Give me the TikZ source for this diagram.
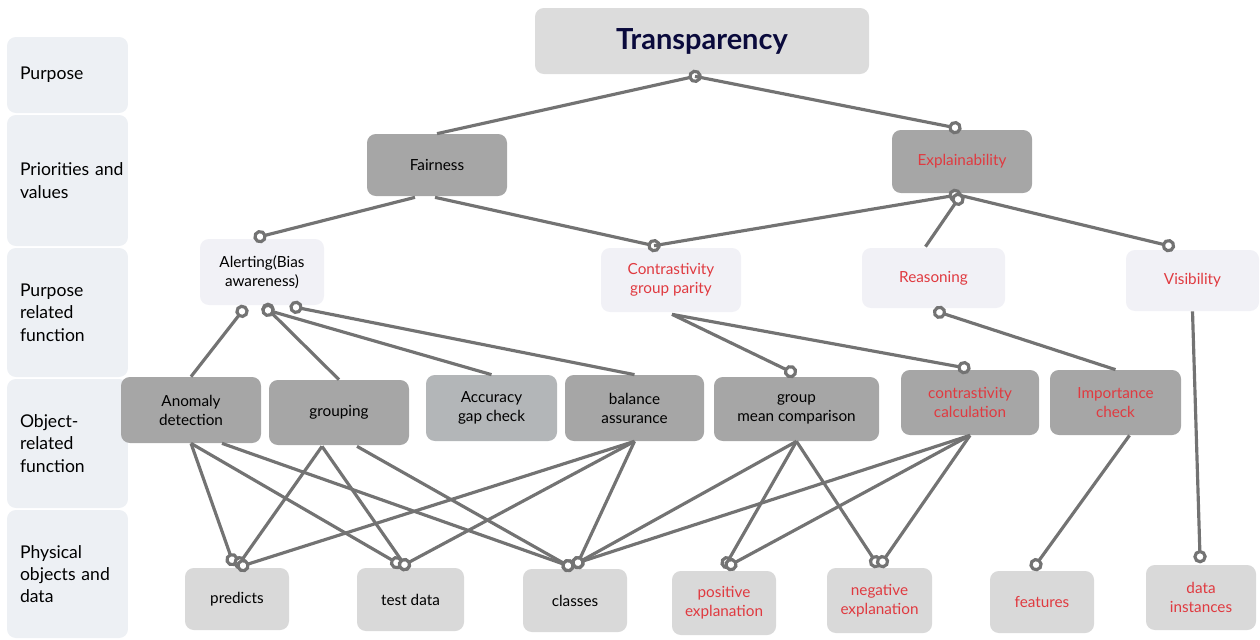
\documentclass[tikz,border=0pt]{standalone}
\usepackage{fontspec}
\setmainfont{Lato}
\usetikzlibrary{arrows.meta,calc}
\definecolor{sidefill}{HTML}{EDF0F4}
\definecolor{topfill}{HTML}{DCDCDC}
\definecolor{darkfill}{HTML}{A6A6A6}
\definecolor{midfill}{HTML}{B3B6B8}
\definecolor{palefill}{HTML}{F1F1F6}
\definecolor{datafill}{HTML}{D9D9D9}
\definecolor{linkgray}{HTML}{737373}
\definecolor{redtext}{HTML}{E03A40}
\definecolor{navytext}{HTML}{0A0A3C}

\begin{document}
\begin{tikzpicture}[x=0.02cm, y=-0.02cm,
    side/.style={fill=sidefill, rounded corners=5pt, minimum width=2.42cm, minimum height=#1*0.02cm,
        text width=1.9cm, inner xsep=0.26cm, align=left, font=\fontsize{10}{12.7}\selectfont},
    box/.style 2 args={rounded corners=5pt, minimum width=#1*0.02cm, minimum height=#2*0.02cm,
        inner sep=0pt, align=center, font=\fontsize{8.7}{10.8}\selectfont},
    dark/.style={fill=darkfill},
    mid/.style={fill=midfill},
    pale/.style={fill=palefill},
    datab/.style={fill=datafill},
    redlabel/.style={text=redtext},
    link/.style={draw=linkgray, line width=1.8pt},
    pin/.style={link, -{Circle[length=7.6pt, fill=white]}, shorten >=-3.8pt},
    pinstart/.style={link, {Circle[length=7.6pt, fill=white]}-, shorten <=-3.8pt}]
    \useasboundingbox (0,0) rectangle (1260,639);

    % left column
    \node[side=76] (sPurp) at (67.5,75) {Purpose};
    \node[side=131] (sPrio) at (67.5,180.5) {Priorities~and\\values};
    \node[side=129] (sFunc) at (67.5,312.5) {Purpose\\related\\function};
    \node[side=129] (sObj) at (67.5,443.5) {Object-\\related\\function};
    \node[side=128] (sData) at (67.5,574) {Physical\\objects~and\\data};

    % purpose, priorities and values
    \node[box={334}{66}, fill=topfill, text=navytext, font=\fontsize{16.5}{19}\selectfont\bfseries] (trans) at (702,41) {Transparency};
    \node[box={140}{62}, dark] (fair) at (437,165) {Fairness};
    \node[box={140}{63}, dark, redlabel] (expl) at (962,161.5) {Explainability};

    % purpose related functions
    \node[box={124}{66}, pale] (alert) at (262,272) {Alerting(Bias\\awareness)};
    \node[box={140}{64}, pale, redlabel] (contr) at (671,280) {Contrastivity\\group parity};
    \node[box={143}{60}, pale, redlabel] (reas) at (933.5,278) {Reasoning};
    \node[box={133}{61}, pale, redlabel] (visi) at (1192.5,280.5) {Visibility};

    % object related functions
    \node[box={140}{66}, dark] (anom) at (191,410) {Anomaly\\detection};
    \node[box={140}{65}, dark] (group) at (339,412.5) {grouping};
    \node[box={131}{66}, mid] (accu) at (491.5,408) {Accuracy\\gap check};
    \node[box={139}{66}, dark] (bal) at (634.5,408) {balance\\assurance};
    \node[box={165}{64}, dark] (gmc) at (796.5,409) {group\\mean comparison};
    \node[box={138}{65}, dark, redlabel] (ccal) at (970,402.5) {contrastivity\\calculation};
    \node[box={131}{65}, dark, redlabel] (imp) at (1115.5,402.5) {Importance\\check};

    % physical objects and data
    \node[box={104}{62}, datab] (pred) at (237,599) {predicts};
    \node[box={107}{63}, datab] (test) at (410.5,599.5) {test data};
    \node[box={104}{63}, datab] (cls) at (575,600.5) {classes};
    \node[box={104}{64}, datab, redlabel] (pos) at (724,603) {positive\\explanation};
    \node[box={105}{65}, datab, redlabel] (neg) at (879.5,600.5) {negative\\explanation};
    \node[box={104}{62}, datab, redlabel] (feat) at (1042,602) {features};
    \node[box={110}{65}, datab, redlabel] (inst) at (1201,597.5) {data\\instances};

    % upper links
    \draw[pinstart] ($(trans.south)+(-7,2)$) -- (fair.north);
    \draw[pin] ($(trans.south)+(-7,2)$) -- ($(expl.north)+(-7,-2)$);
    \draw[pin] ($(fair.south)+(-22,1)$) -- ($(alert.north)+(-2,-2)$);
    \draw[pin] ($(fair.south)+(-2,1)$) -- ($(contr.north)+(-17,-2)$);
    \draw[pinstart] ($(expl.south)+(-7,2)$) -- ($(contr.north)+(-17,-2)$);
    \draw[pinstart] ($(expl.south)+(-4,6)$) -- ($(reas.north)+(-8,-1)$);
    \draw[pin] ($(expl.south)+(-2,2)$) -- ($(visi.north)+(-24,-4)$);

    % purpose related to object related
    \draw[pinstart] ($(alert.south)+(-20,6)$) -- (anom.north);
    \draw[pinstart] ($(alert.south)+(6,4)$) -- (group.north);
    \draw[pinstart] ($(alert.south)+(6,5)$) -- (accu.north);
    \draw[pinstart] ($(alert.south)+(34,2)$) -- (bal.north);
    \draw[pin] ($(contr.south)+(1,2)$) -- ($(gmc.north)+(-6,-5)$);
    \draw[pin] ($(contr.south)+(1,2)$) -- ($(ccal.north)+(-6,-2)$);
    \draw[pinstart] ($(reas.south)+(6,4)$) -- (imp.north);
    \draw[pin] (visi.south) -- ($(inst.north)+(-1,-8)$);

    % object related to physical objects
    \draw[pin] (anom.south) -- ($(pred.north)+(-5,-8)$);
    \draw[pin] (anom.south) -- ($(test.north)+(-14,-5)$);
    \draw[pin] ($(anom.south)+(31,0)$) -- ($(cls.north)+(-7,-3)$);
    \draw[pin] ($(group.south)+(-17,1)$) -- ($(pred.north)+(3,-5)$);
    \draw[pin] ($(group.south)+(-17,1)$) -- ($(test.north)+(-6,-3)$);
    \draw[pin] ($(group.south)+(18,1)$) -- ($(cls.north)+(-7,-3)$);
    \draw[pin] (bal.south) -- ($(pred.north)+(6,-2)$);
    \draw[pin] (bal.south) -- ($(test.north)+(-6,-3)$);
    \draw[pin] (bal.south) -- ($(cls.north)+(3,-6)$);
    \draw[pin] (gmc.south) -- ($(cls.north)+(3,-6)$);
    \draw[pin] (gmc.south) -- ($(pos.north)+(3,-8)$);
    \draw[pin] (gmc.south) -- ($(neg.north)+(-4,-6)$);
    \draw[pin] (ccal.south) -- ($(cls.north)+(3,-6)$);
    \draw[pin] (ccal.south) -- ($(pos.north)+(7,-6)$);
    \draw[pin] (ccal.south) -- ($(neg.north)+(3,-6)$);
    \draw[pin] ($(imp.south)+(14,0)$) -- ($(feat.north)+(-6,-6)$);
\end{tikzpicture}
\end{document}
